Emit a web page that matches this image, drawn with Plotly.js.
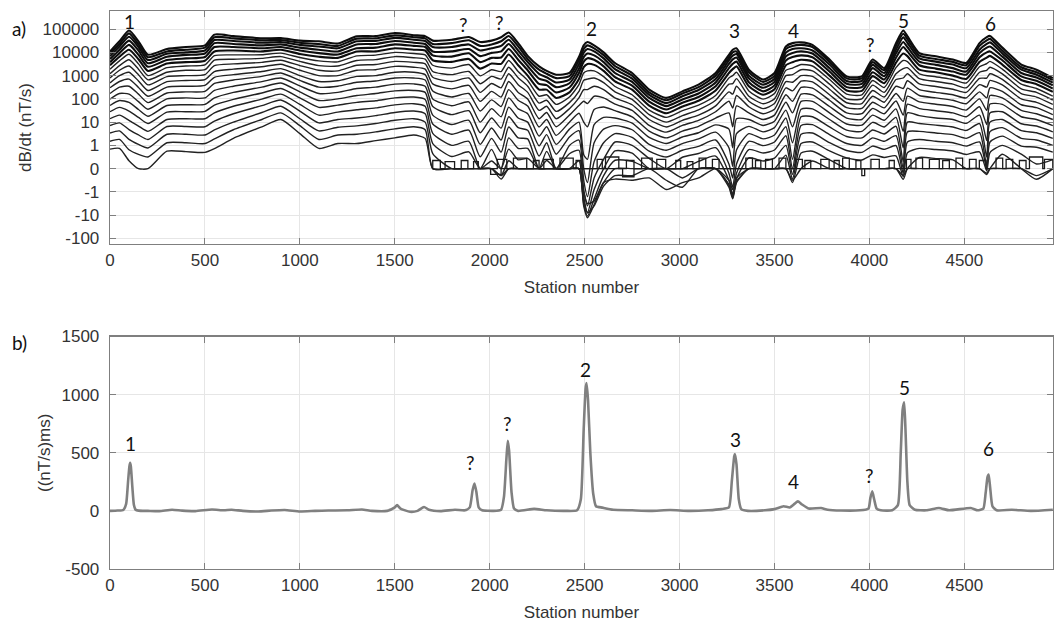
<!DOCTYPE html>
<html>
<head>
<meta charset="utf-8">
<script src="https://cdn.plot.ly/plotly-3.0.1.min.js"></script>
<style>html,body{margin:0;padding:0;background:#fff;}#chart{width:1055px;height:625px;}</style>
</head>
<body>
<div id="chart"></div>
<script>
// ---------------- Panel a) : dB/dt gates (nT/s) ----------------
const stations = [0,50,100,150,200,300,400,500,550,650,800,900,1000,1100,1200,1300,1400,1500,1600,1660,1700,1800,1890,1950,2010,2060,2100,2150,2200,2260,2300,2350,2420,2470,2495,2515,2550,2600,2660,2750,2840,2930,3015,3100,3190,3260,3280,3300,3365,3440,3500,3560,3595,3640,3700,3790,3880,3960,4017,4078,4140,4178,4200,4263,4350,4440,4510,4580,4618,4635,4700,4800,4880,4966];

const gate01 = [11000,30000,87000,30000,7900,14000,17000,20000,58000,50000,40000,41000,32000,30000,24000,49000,50000,68000,55000,50000,32000,35000,46000,28000,32000,45000,72000,25000,7100,2500,1600,1100,1300,6300,20000,28000,20000,10000,3500,1300,250,110,210,410,1300,7900,13000,15000,1800,680,1300,18000,25000,27000,21000,4900,930,930,4900,2100,25000,87000,50000,9300,6800,4900,3500,25000,45000,51000,16000,3000,1800,790];
const gate02 = [8900,23000,66000,22000,6200,11000,13000,16000,45000,40000,33000,34000,26000,23000,19000,39000,40000,54000,45000,40000,23000,25000,33000,19000,22000,30000,51000,18000,5200,1800,1200,780,950,4600,14000,20000,15000,7600,2600,1000,190,87,170,320,1000,6000,10000,11000,1400,540,980,14000,19000,21000,17000,3900,760,760,3800,1700,19000,63000,37000,7200,5200,3900,2800,19000,33000,38000,12000,2300,1400,650];
const gate03 = [6900,18000,47000,17000,4700,8700,10000,12000,34000,31000,26000,28000,21000,18000,15000,30000,31000,42000,35000,31000,17000,17000,22000,12000,15000,19000,35000,12000,3800,1200,850,510,680,3100,9800,14000,11000,5500,1900,740,150,66,130,240,720,4500,7200,8500,1000,410,740,9800,14000,15000,12000,3000,590,590,2900,1300,13000,44000,26000,5500,4000,3000,2100,13000,23000,27000,9100,1800,1100,500];
const gate04 = [5200,13000,32000,12000,3400,6500,7800,8900,25000,23000,20000,22000,16000,13000,11000,22000,23000,31000,26000,23000,11000,11000,14000,6900,9500,11000,23000,7900,2600,740,590,320,470,2000,6300,8900,7400,3800,1300,540,110,49,95,170,510,3200,5000,6000,760,300,540,6800,9500,11000,8900,2100,450,440,2100,950,9100,28000,17000,4000,2900,2100,1500,9300,16000,18000,6600,1300,830,380];
const gate05 = [3800,9300,21000,7900,2400,4700,5500,6300,17000,17000,15000,17000,12000,9300,8100,15000,16000,22000,19000,17000,7400,6600,9100,3800,5800,6000,14000,4800,1700,440,390,190,310,1300,4000,5600,4800,2500,870,370,76,35,68,120,350,2100,3200,4000,520,210,380,4500,6300,7400,6200,1500,320,320,1400,680,5900,17000,11000,2800,2000,1500,1100,6200,10000,11000,4600,930,600,280];
const gate06 = [2800,6500,13000,5100,1600,3300,3800,4400,11000,12000,11000,13000,8500,6500,5800,11000,11000,15000,13000,12000,4600,3900,5200,2000,3300,3200,8100,2800,1000,250,250,110,190,720,2300,3200,2900,1600,560,250,51,24,47,83,230,1300,1900,2500,350,150,260,2800,3800,4800,4100,1000,230,220,950,470,3600,8900,6900,1800,1400,1000,720,3900,6000,7100,3000,650,430,200];
const gate07 = [1900,4300,8300,3200,1000,2200,2600,2900,7200,7800,7900,9300,6000,4300,3900,7100,7600,10000,8900,7800,2800,2100,3000,980,1800,1500,4500,1500,620,130,150,58,120,410,1300,1600,1600,910,340,150,33,16,31,54,140,790,1000,1400,220,98,170,1700,2100,3000,2600,680,160,150,620,310,2200,4500,4000,1200,890,680,480,2400,3300,4100,1900,430,280,130];
const gate08 = [1200,2700,4800,1900,660,1400,1700,1800,4600,5100,5500,6600,4100,2700,2600,4500,4900,6600,5900,5100,1500,1100,1500,450,930,710,2300,810,350,66,87,29,69,210,630,710,790,500,200,95,21,10,19,34,87,430,450,740,130,62,100,1000,1100,1800,1600,430,100,100,390,190,1200,2000,2200,740,560,430,300,1400,1700,2300,1200,270,190,89];
const gate09 = [790,1700,2600,1100,400,910,1000,1100,2700,3200,3700,4600,2700,1700,1600,2800,3000,4100,3700,3200,850,560,790,190,460,300,1200,410,190,32,48,14,38,110,250,250,350,250,110,56,13,6.2,12,20,50,200,160,350,79,38,63,550,520,1000,930,260,68,63,230,120,680,790,1200,440,340,260,190,760,790,1200,690,170,120,58];
const gate10 = [490,1000,1400,590,230,550,620,680,1500,1900,2400,3100,1700,1000,1000,1700,1800,2500,2300,1900,440,270,380,78,210,120,560,190,98,14,26,6.3,20,52,79,63,130,110,60,32,7.2,3.7,7.2,12,28,79,40,140,46,23,36,300,220,580,540,150,42,39,130,72,350,280,600,250,190,150,110,410,320,620,400,100,71,35];
const gate11 = [300,560,710,310,130,320,350,380,850,1100,1500,2000,1000,560,600,930,1000,1400,1400,1100,220,120,170,30,91,47,250,87,49,6.2,13,2.7,10,24,10,6.3,35,45,31,17,4.1,2.1,4.1,6.6,15,25,6.3,50,25,13,20,150,79,310,290,87,25,23,72,41,170,79,290,140,110,87,62,200,110,300,210,56,42,21];
const gate12 = [170,320,350,160,69,180,200,210,460,650,930,1300,620,320,350,520,590,790,790,650,100,51,74,10,38,17,110,37,23,2.5,6.3,1.1,5.0,10,0.6,0.4,7.9,16,15,9.1,2.2,1.2,2.3,3.5,7.6,5.0,0.9,14,13,7.2,11,72,25,160,150,47,15,13,39,23,81,20,130,74,59,47,33,100,32,140,110,32,23,13];
const gate13 = [98,170,160,76,36,100,110,110,230,350,550,790,360,170,190,280,320,430,440,350,47,21,31,3.5,15,5.5,44,15,10,0.98,2.9,0.62,2.3,4.3,0,-0.6,1.3,5.0,7.1,4.7,1.1,0.79,1.2,1.9,3.7,0.9,0.1,3.2,6.6,3.8,5.8,33,6.3,78,78,25,8.3,7.4,20,12,37,4.0,59,38,31,25,17,46,7.9,60,58,17,13,7.1];
const gate14 = [52,85,71,35,18,52,56,58,110,190,320,480,200,85,100,140,170,220,230,190,20,7.9,12,1.1,5.6,1.7,17,5.8,4.5,0.54,1.3,0,1.0,1.7,-0.5,-1.6,0.3,1.3,3.2,2.2,0.75,0.5,0.79,0.96,1.7,0.2,-0.4,0.8,3.2,1.9,2.8,15,1.3,36,37,13,4.5,4.0,9.8,6.2,16,0.9,25,19,15,13,8.9,20,1.6,25,28,8.5,6.8,3.8];
const gate15 = [28,43,30,16,8.7,27,28,29,54,95,180,280,110,43,54,71,83,110,120,95,8.3,3.0,4.5,0.51,2.0,0.71,6.2,2.1,1.9,0,0.74,0,0.64,0.79,-0.9,-4.0,-0.4,0.4,1.4,1.0,0.44,0,0.49,0.65,0.9,-0.2,-0.8,0.2,1.5,0.99,1.4,6.3,0.4,17,17,6.2,2.4,2.1,4.6,3.1,6.6,0.3,10,8.7,7.4,6.2,4.4,8.7,0.5,10,13,4.3,3.5,2.0];
const gate16 = [14,20,12,6.8,4.0,13,14,14,25,48,98,160,58,20,27,34,41,55,62,48,3.3,1.0,1.5,0,0.83,0,2.1,0.87,0.87,0,0.35,0,0,0.33,-1.6,-7.9,-0.9,0,0.76,0.67,0,0,0,0.31,0.54,-0.5,-1.3,-0.2,0.82,0.67,0.8,2.6,0,7.2,7.8,2.9,1.2,1.0,2.1,1.5,2.6,0,3.8,4.0,3.4,2.9,2.0,3.5,0.1,3.9,5.8,2.0,1.7,1.0];
const gate17 = [7.1,9.3,4.8,2.8,1.8,6.5,6.5,6.3,11,23,51,89,30,9.3,13,15,19,26,30,23,1.2,0.52,0.72,0,0.33,0,0.84,0.38,0.44,0,0,0,0,0,-3.2,-11,-2.0,-0.3,0.36,0.31,0,0,0,0,0,-0.7,-1.8,-0.45,0.46,0.33,0.45,1.0,-0.25,3.0,3.4,1.3,0.78,0.7,0.97,0.83,0.99,-0.2,1.4,1.8,1.5,1.3,0.97,1.4,0,1.4,2.5,0.97,0.92,0.71];
const gate18 = [3.4,4.2,1.8,1.1,0.89,3.0,3.0,2.8,4.6,10,26,48,14,4.2,6.0,6.9,8.7,12,14,10,0.65,0,0,0,0,-0.3,0.34,0,0,0,0,0,0,0,-4.0,-13,-3.5,-0.6,0,0,0,0,-0.4,0,0,-0.8,-2.0,-0.6,0,0,0,0.58,-0.45,1.2,1.4,0.76,0.46,0.37,0.59,0.48,0.55,-0.35,0.68,0.87,0.82,0.76,0.61,0.72,-0.1,0.69,1.0,0.62,0.2,0.39];
const gate19 = [1.5,1.8,0.81,0.61,0.5,1.3,1.3,1.2,1.9,4.7,13,25,7.1,1.8,2.8,3.0,3.8,5.1,6.3,4.7,0,0,0,0,0,-0.45,0,0,0,0,0,0,0,0,-2.5,-7.9,-4.0,-0.75,-0.3,-0.3,0,-0.5,-0.8,0,0,-0.7,-1.6,-0.55,0,0,0,0,-0.6,0.67,0.75,0.38,0,0,0,0,0,-0.46,0,0.48,0.43,0.38,0,0,-0.25,0,0.62,0,-0.46,0];
const gate20 = [0.84,0.87,0.34,0,0,0.75,0.73,0.7,0.86,2.0,6.3,13,3.2,0.87,1.2,1.2,1.6,2.1,2.8,2.0,0,0,0,0,0,-0.3,0,0,0,0,0,0,0,0,-1.0,-3.2,-2.5,-0.6,-0.45,-0.5,-0.4,-0.9,-0.6,-0.4,0,-0.5,-0.9,-0.4,0,0,0,0,-0.5,0,0.33,0,0,0,0,0,0,-0.3,0,0,0,0,0,0,-0.2,0,0,0,-0.3,0];

// quantisation noise of the late gates (start station, end station, level nT/s)
const noiseStart = [1700,1765,1850,1915,2040,2125,2230,2285,2370,2455,2566,2610,2720,2800,2880,2980,3040,3103,3173,3349,3400,3453,3524,3612,3660,3744,3814,3859,3929,4008,4104,4195,4245,4316,4386,4456,4527,4579,4667,4720,4790,4843,4922];
const noiseEnd   = [1740,1815,1885,1940,2090,2195,2260,2335,2440,2480,2593,2680,2760,2856,2927,3006,3070,3138,3208,3384,3428,3489,3560,3647,3691,3788,3841,3894,3955,4052,4131,4219,4280,4368,4421,4491,4562,4614,4702,4755,4825,4913,4966];
const noiseLevel = [0.35,0.3,0.35,0.3,0.4,0.45,0.35,0.4,0.45,0.35,0.4,0.5,0.35,0.45,0.4,0.35,0.3,0.45,0.4,0.45,0.35,0.4,0.45,0.4,0.35,0.4,0.35,0.45,0.35,0.4,0.35,0.4,0.45,0.4,0.35,0.45,0.4,0.35,0.45,0.4,0.35,0.5,0.4];
const negNoiseStart = [2005,2700,3960];
const negNoiseEnd   = [2060,2760,3975];
const negNoiseLevel = [-0.25,-0.35,-0.3];

const dbdtTicks = [-100,-10,-1,0,1,10,100,1000,10000,100000];
const peakLabelsA = ['1','?','?','2','3','4','?','5','6'];

// ---------------- Panel b) : integrated response ((nT/s)ms) ----------------
const bStations = [0,40,70,85,95,102,106,110,118,126,135,150,200,260,327,380,450,537,600,640,700,780,850,920,1000,1080,1150,1250,1327,1380,1460,1500,1512,1530,1580,1620,1654,1680,1740,1817,1870,1895,1910,1920,1930,1942,1960,2020,2060,2075,2088,2095,2102,2115,2128,2150,2234,2300,2400,2460,2480,2495,2505,2510,2518,2530,2545,2560,2594,2650,2750,2850,2950,3050,3150,3220,3260,3275,3288,3292,3300,3312,3325,3360,3450,3500,3548,3580,3605,3623,3645,3680,3745,3780,3850,3950,3995,4005,4015,4025,4038,4060,4120,4150,4165,4175,4183,4190,4200,4212,4240,4300,4366,4420,4534,4570,4600,4612,4622,4628,4636,4648,4670,4750,4850,4966];
const bValues = [0,3,8,60,250,380,413,380,200,50,10,2,0,-2,10,2,-2,12,5,10,0,-5,3,8,-5,0,3,5,12,0,0,30,50,20,-8,0,33,10,-2,10,5,30,180,235,160,30,5,0,10,120,450,602,520,160,20,0,17,5,0,5,100,700,1050,1099,950,500,150,40,28,10,5,0,8,0,5,15,30,250,470,488,400,100,15,0,5,15,40,30,60,82,55,20,25,10,3,5,20,110,168,100,20,5,5,50,500,870,934,700,250,50,10,5,25,5,25,5,20,150,290,312,200,40,5,10,0,10];
const bTicks = [-500,0,500,1000,1500];
const peakLabelsB = ['1','?','?','2','3','4','?','5','6'];

// ---------------- drawing ----------------
function toAxis(v){
  if (v >= 1) return Math.log10(v) + 1;
  if (v <= -1) return -(Math.log10(-v) + 1);
  return v;
}
const gates = [gate01,gate02,gate03,gate04,gate05,gate06,gate07,gate08,gate09,gate10,gate11,gate12,gate13,gate14,gate15,gate16,gate17,gate18,gate19,gate20];
gates.forEach((g,i)=>{ if(g.length!==stations.length) console.error('gate'+(i+1)+' length '+g.length); });
if (bStations.length!==bValues.length) console.error('panel b length mismatch');

const traces = [];
gates.forEach((g,i)=>{
  traces.push({
    x: stations, y: g.map(toAxis), xaxis:'x', yaxis:'y', type:'scatter', mode:'lines',
    line:{color: i<6 ? '#0d0d0d' : '#222222', width: i<6 ? 2.1 : 1.4, shape:'spline', smoothing:0.6},
    hoverinfo:'skip', showlegend:false
  });
});
function stepTrace(st, en, lv){
  const x=[], y=[];
  for(let i=0;i<st.length;i++){ x.push(st[i],st[i],en[i],en[i]); y.push(0,lv[i],lv[i],0); }
  return {x:x, y:y.map(toAxis), xaxis:'x', yaxis:'y', type:'scatter', mode:'lines',
          line:{color:'#1a1a1a', width:1.3}, hoverinfo:'skip', showlegend:false};
}
traces.push(stepTrace(noiseStart, noiseEnd, noiseLevel));
traces.push(stepTrace(negNoiseStart, negNoiseEnd, negNoiseLevel));

traces.push({x:bStations, y:bValues, xaxis:'x2', yaxis:'y2', type:'scatter', mode:'lines',
  line:{color:'#808080', width:2.6, shape:'spline', smoothing:0.5}, hoverinfo:'skip', showlegend:false});

const tickFont = {family:'"Liberation Sans", Arial, sans-serif', size:17, color:'#333333'};
const titleFont = {family:'"Liberation Sans", Arial, sans-serif', size:17, color:'#333333'};
const common = {
  showline:true, linecolor:'#7f7f7f', linewidth:1.3, mirror:'ticks',
  ticks:'inside', ticklen:6, tickwidth:1, tickcolor:'#7f7f7f',
  showgrid:true, gridcolor:'#e6e6e6', gridwidth:1, zeroline:false,
  tickfont:tickFont, automargin:false
};
const xTicks = [0,500,1000,1500,2000,2500,3000,3500,4000,4500];

const annA = [[105,6.33],[1861,6.18],[2051,6.28],[2535,6.01],[3290,5.94],[3601,5.94],[4008,5.33],[4182,6.37],[4640,6.23]];
const annB = [[106,576],[1898,415],[2093,748],[2507,1215],[3292,614],[3598,250],[3998,307],[4183,1059],[4628,540]];
const labelFont = {family:'Lato, "Open Sans", sans-serif', size:19, color:'#111'};
const annotations = [];
peakLabelsA.forEach((t,i)=>annotations.push({x:annA[i][0], y:annA[i][1], xref:'x', yref:'y', text:t, showarrow:false, font:labelFont}));
peakLabelsB.forEach((t,i)=>annotations.push({x:annB[i][0], y:annB[i][1], xref:'x2', yref:'y2', text:t, showarrow:false, font:labelFont}));
annotations.push({xref:'paper', yref:'paper', x:-0.106, y:0.9695, xanchor:'left', yanchor:'middle', text:'a)', showarrow:false, font:labelFont});
annotations.push({xref:'paper', yref:'paper', x:-0.106, y:0.4053, xanchor:'left', yanchor:'middle', text:'b)', showarrow:false, font:labelFont});

const layout = {
  width:1055, height:625, margin:{l:110, r:2, t:11, b:56},
  paper_bgcolor:'#ffffff', plot_bgcolor:'#ffffff', showlegend:false,
  xaxis: Object.assign({}, common, {domain:[0,1], anchor:'y', range:[0,4967], tickvals:xTicks,
    ticklabelstandoff:0, title:{text:'Station number', font:titleFont, standoff:12}}),
  yaxis: Object.assign({}, common, {domain:[0.5821,1], anchor:'x', range:[-3.25,6.78],
    tickvals:dbdtTicks.map(toAxis), ticktext:dbdtTicks.map(String), ticklabelstandoff:6,
    title:{text:'dB/dt (nT/s)', font:titleFont, standoff:6}}),
  xaxis2: Object.assign({}, common, {domain:[0,1], anchor:'y2', range:[0,4967], tickvals:xTicks,
    ticklabelstandoff:0, title:{text:'Station number', font:titleFont, standoff:12}}),
  yaxis2: Object.assign({}, common, {domain:[0,0.4166], anchor:'x2', range:[-500,1500], tickvals:bTicks,
    ticktext:bTicks.map(String), ticklabelstandoff:6, title:{text:'((nT/s)ms)', font:titleFont, standoff:6}}),
  annotations: annotations
};
Plotly.newPlot('chart', traces, layout, {staticPlot:true, displayModeBar:false});
</script>
</body>
</html>
